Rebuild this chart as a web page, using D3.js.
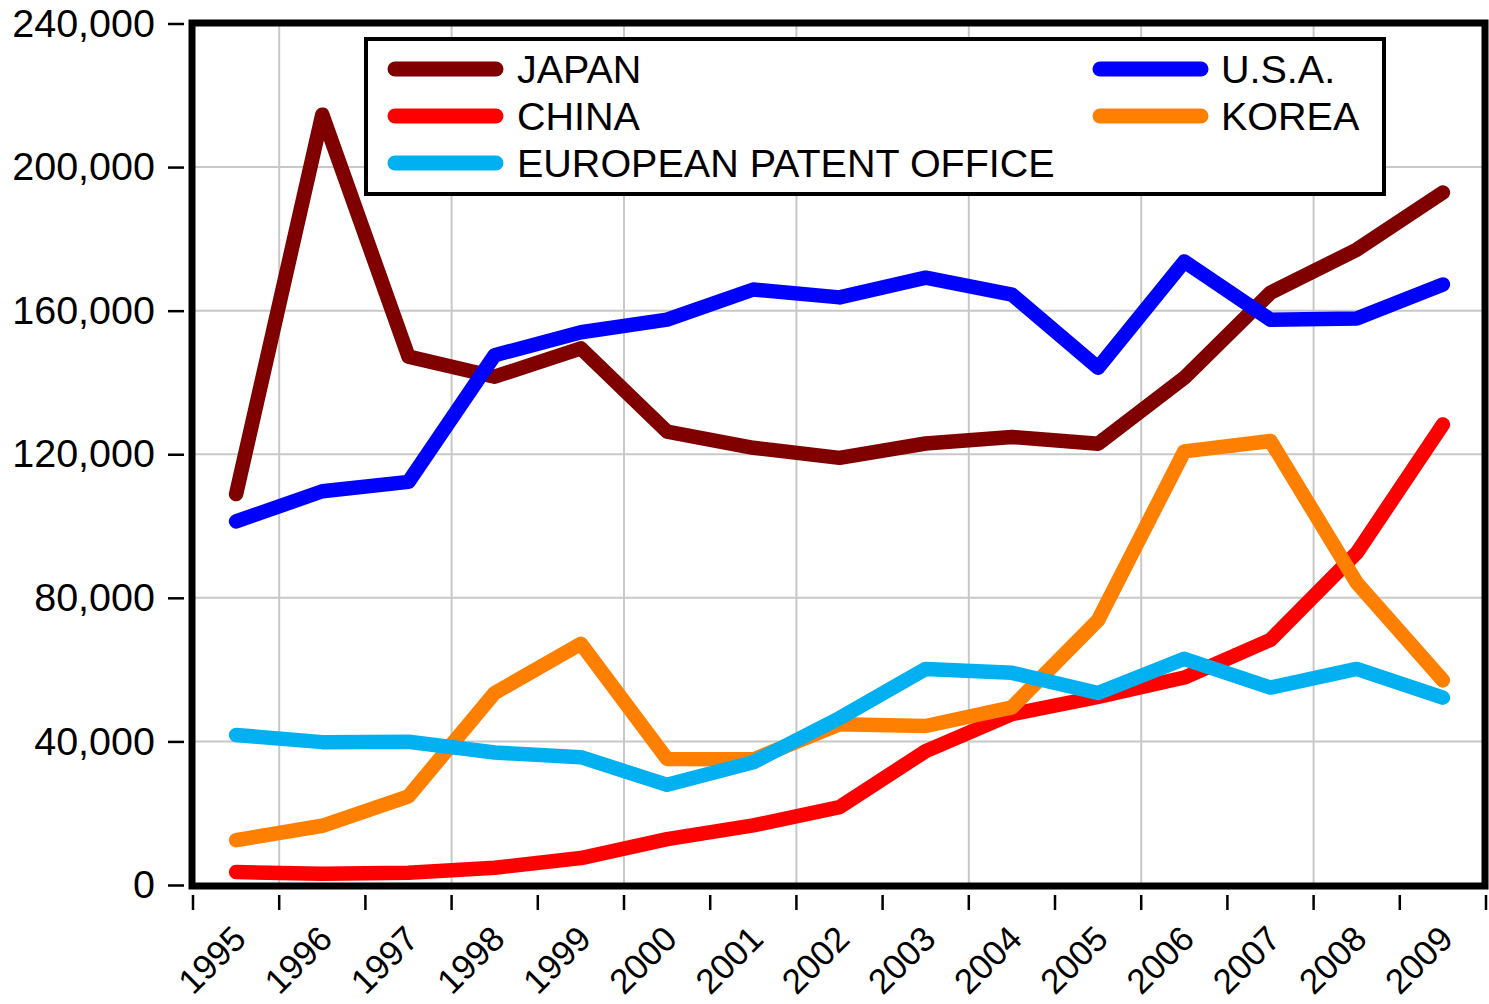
<!DOCTYPE html>
<html>
<head>
<meta charset="utf-8">
<script src="https://cdn.jsdelivr.net/npm/d3@7"></script>
<style>
  body { margin: 0; background: #fff; }
  text { font-family: "Liberation Sans", Arial, sans-serif; fill: #000; }
</style>
</head>
<body>
<svg id="chart" width="1489" height="1004"></svg>
<script>
// Patent applications by office, 1995–2009
const years = [1995, 1996, 1997, 1998, 1999, 2000, 2001, 2002, 2003, 2004, 2005, 2006, 2007, 2008, 2009];
const japan = [108900, 214600, 147200, 141600, 149500, 126300, 121800, 119000, 123000, 124800, 122900, 141300, 165000, 177000, 192900];
const usa   = [101300, 109700, 112300, 147600, 154000, 157500, 165900, 163700, 169200, 164500, 144100, 173700, 157500, 157800, 167300];
const china = [3600, 3100, 3400, 4800, 7500, 12800, 16600, 21700, 37300, 47600, 52400, 57800, 68300, 92500, 128300];
const korea = [12500, 16500, 24700, 53500, 67200, 35100, 35000, 44800, 44300, 49500, 73800, 120800, 123700, 84200, 57000];
const epo   = [41800, 39800, 39900, 36900, 35600, 27900, 34200, 46500, 60200, 59100, 53500, 63000, 55000, 60200, 52200];
const yTicks = [0, 40000, 80000, 120000, 160000, 200000, 240000];

const seriesNames  = ["JAPAN", "CHINA", "EUROPEAN PATENT OFFICE", "U.S.A.", "KOREA"];
const seriesColors = ["#800000", "#ff0000", "#00b0f0", "#0000ff", "#ff8000"];
const seriesValues = [japan, china, epo, usa, korea];

const svg = d3.select("#chart");

const x = d3.scaleBand().domain(years).range([193, 1486]).padding(0);
const y = d3.scaleLinear().domain([0, 240000]).range([885, 23.5]);
const cx = yr => x(yr) + x.bandwidth() / 2;

// grid
const grid = svg.append("g").attr("stroke", "#c8c8c8").attr("stroke-width", 2);
grid.selectAll(".hg").data(yTicks.slice(1, -1)).join("line")
  .attr("x1", x.range()[0]).attr("x2", x.range()[1])
  .attr("y1", d => y(d)).attr("y2", d => y(d));
grid.selectAll(".vg").data(years.filter((d, i) => i % 2 === 1)).join("line")
  .attr("x1", d => x(d)).attr("x2", d => x(d))
  .attr("y1", y.range()[1]).attr("y2", y.range()[0]);

// series lines
const drawOrder = [0, 1, 4, 3, 2];
const line = d3.line().x((d, i) => cx(years[i])).y(d => y(d));
svg.append("g").selectAll("path").data(drawOrder).join("path")
  .attr("d", k => line(seriesValues[k]))
  .attr("fill", "none")
  .attr("stroke", k => seriesColors[k])
  .attr("stroke-width", 14.5)
  .attr("stroke-linecap", "round")
  .attr("stroke-linejoin", "round");

// plot frame
svg.append("rect")
  .attr("x", 192).attr("y", 23).attr("width", 1293).attr("height", 863)
  .attr("fill", "none").attr("stroke", "#000").attr("stroke-width", 7);

// y axis
const yAxis = svg.append("g").attr("transform", "translate(184,0)")
  .call(d3.axisLeft(y).tickValues(yTicks).tickFormat(d3.format(",")).tickSize(16).tickPadding(13));
yAxis.select(".domain").remove();
yAxis.selectAll(".tick line").attr("stroke", "#000").attr("stroke-width", 2.5);
yAxis.selectAll(".tick text").attr("font-size", 39.5).attr("font-family", "'Liberation Sans', Arial, sans-serif").attr("fill", "#000");

// x ticks at year boundaries
const bounds = years.map(d => x(d)).concat([x.range()[1]]);
svg.append("g").selectAll("line").data(bounds).join("line")
  .attr("x1", d => d).attr("x2", d => d)
  .attr("y1", 895).attr("y2", 910)
  .attr("stroke", "#000").attr("stroke-width", 2.5);

// x labels
svg.append("g").selectAll("text").data(years).join("text")
  .attr("transform", d => `translate(${cx(d) + 12},941) rotate(-45)`)
  .attr("text-anchor", "end")
  .attr("font-size", 35)
  .text(d => d);

// legend
const legend = svg.append("g");
legend.append("rect")
  .attr("x", 366).attr("y", 39).attr("width", 1018).attr("height", 155)
  .attr("fill", "#fff").attr("stroke", "#000").attr("stroke-width", 4);
const rowsY = [69, 116, 163];
const legendPos = [
  { col: 0, row: 0 }, { col: 0, row: 1 }, { col: 0, row: 2 },
  { col: 1, row: 0 }, { col: 1, row: 1 }
];
const colX = [{ l1: 395, l2: 496, t: 517 }, { l1: 1100, l2: 1201, t: 1221 }];
const items = legend.selectAll("g").data(seriesNames.map((n, i) => i)).join("g");
items.append("line")
  .attr("x1", i => colX[legendPos[i].col].l1).attr("x2", i => colX[legendPos[i].col].l2)
  .attr("y1", i => rowsY[legendPos[i].row]).attr("y2", i => rowsY[legendPos[i].row])
  .attr("stroke", i => seriesColors[i]).attr("stroke-width", 15).attr("stroke-linecap", "round");
items.append("text")
  .attr("x", i => colX[legendPos[i].col].t)
  .attr("y", i => rowsY[legendPos[i].row])
  .attr("dy", "0.36em")
  .attr("font-size", 39.5)
  .text(i => seriesNames[i]);
</script>
</body>
</html>
